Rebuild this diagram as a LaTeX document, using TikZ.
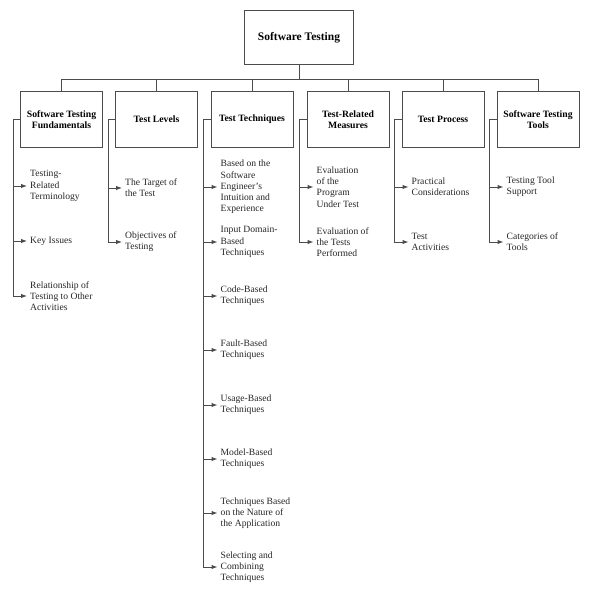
\documentclass[tikz,border=0pt]{standalone}
\usepackage{fontspec}
\setmainfont{Liberation Serif}
\usetikzlibrary{arrows.meta}
\begin{document}
\begin{tikzpicture}[x=1pt,y=-1pt,
 line/.style={draw=black!70,line width=1pt},
 topbox/.style={line, rectangle, minimum width=109pt, minimum height=54pt, font=\fontsize{11.5}{13}\selectfont\bfseries},
 catbox/.style={line, rectangle, minimum width=82pt, minimum height=55pt, align=center, font=\fontsize{9.7}{11}\selectfont\bfseries},
 leaf/.style={anchor=west, align=left, inner xsep=3pt, inner ysep=0pt, text=black!85, font=\fontsize{9.6}{11.3}\selectfont},
 link/.style={line, -{Latex[length=6pt,width=4.5pt]}}]
\useasboundingbox (0,0) rectangle (592,599);
\node[topbox] (root) at (299,38) {Software Testing};
\node[catbox] (b1) at (61.5,119.5) {Software Testing\\Fundamentals};
\node[catbox] (b2) at (156.5,119.5) {Test Levels};
\node[catbox] (b3) at (252,119.5) {Test Techniques};
\node[catbox] (b4) at (348,119.5) {Test-Related\\Measures};
\node[catbox] (b5) at (443,119.5) {Test Process};
\node[catbox] (b6) at (538,119.5) {Software Testing\\Tools};
\foreach \b in {b1,b2,b3,b4,b5,b6}{
  \draw[line] (root.south) -- ++(0,14) -| (\b.north);
}
% leaves of b1
\node[leaf] (c11) at (27,186) {Testing-\\Related\\Terminology};
\node[leaf] (c12) at (27,241) {Key Issues};
\node[leaf] (c13) at (27,296) {Relationship of\\Testing to Other\\Activities};
% leaves of b2
\node[leaf] (c21) at (122,188) {The Target of\\the Test};
\node[leaf] (c22) at (122,242) {Objectives of\\Testing};
% leaves of b3
\node[leaf] (c31) at (217.5,187) {Based on the\\Software\\Engineer's\\Intuition and\\Experience};
\node[leaf] (c32) at (217.5,242) {Input Domain-\\Based\\Techniques};
\node[leaf] (c33) at (217.5,296) {Code-Based\\Techniques};
\node[leaf] (c34) at (217.5,350) {Fault-Based\\Techniques};
\node[leaf] (c35) at (217.5,405) {Usage-Based\\Techniques};
\node[leaf] (c36) at (217.5,459) {Model-Based\\Techniques};
\node[leaf] (c37) at (217.5,513) {Techniques Based\\on the Nature of\\the Application};
\node[leaf] (c38) at (217.5,567) {Selecting and\\Combining\\Techniques};
% leaves of b4
\node[leaf] (c41) at (313.5,187) {Evaluation\\of the\\Program\\Under Test};
\node[leaf] (c42) at (313.5,242) {Evaluation of\\the Tests\\Performed};
% leaves of b5
\node[leaf] (c51) at (408.5,187) {Practical\\Considerations};
\node[leaf] (c52) at (408.5,242) {Test\\Activities};
% leaves of b6
\node[leaf] (c61) at (503.5,187) {Testing Tool\\Support};
\node[leaf] (c62) at (503.5,242) {Categories of\\Tools};
\foreach \b/\c in {b1/c11,b1/c12,b1/c13,b2/c21,b2/c22,b3/c31,b3/c32,b3/c33,b3/c34,b3/c35,b3/c36,b3/c37,b3/c38,b4/c41,b4/c42,b5/c51,b5/c52,b6/c61,b6/c62}{
  \draw[link] (\b.west) -- ++(-7,0) |- (\c.west);
}
\end{tikzpicture}
\end{document}
